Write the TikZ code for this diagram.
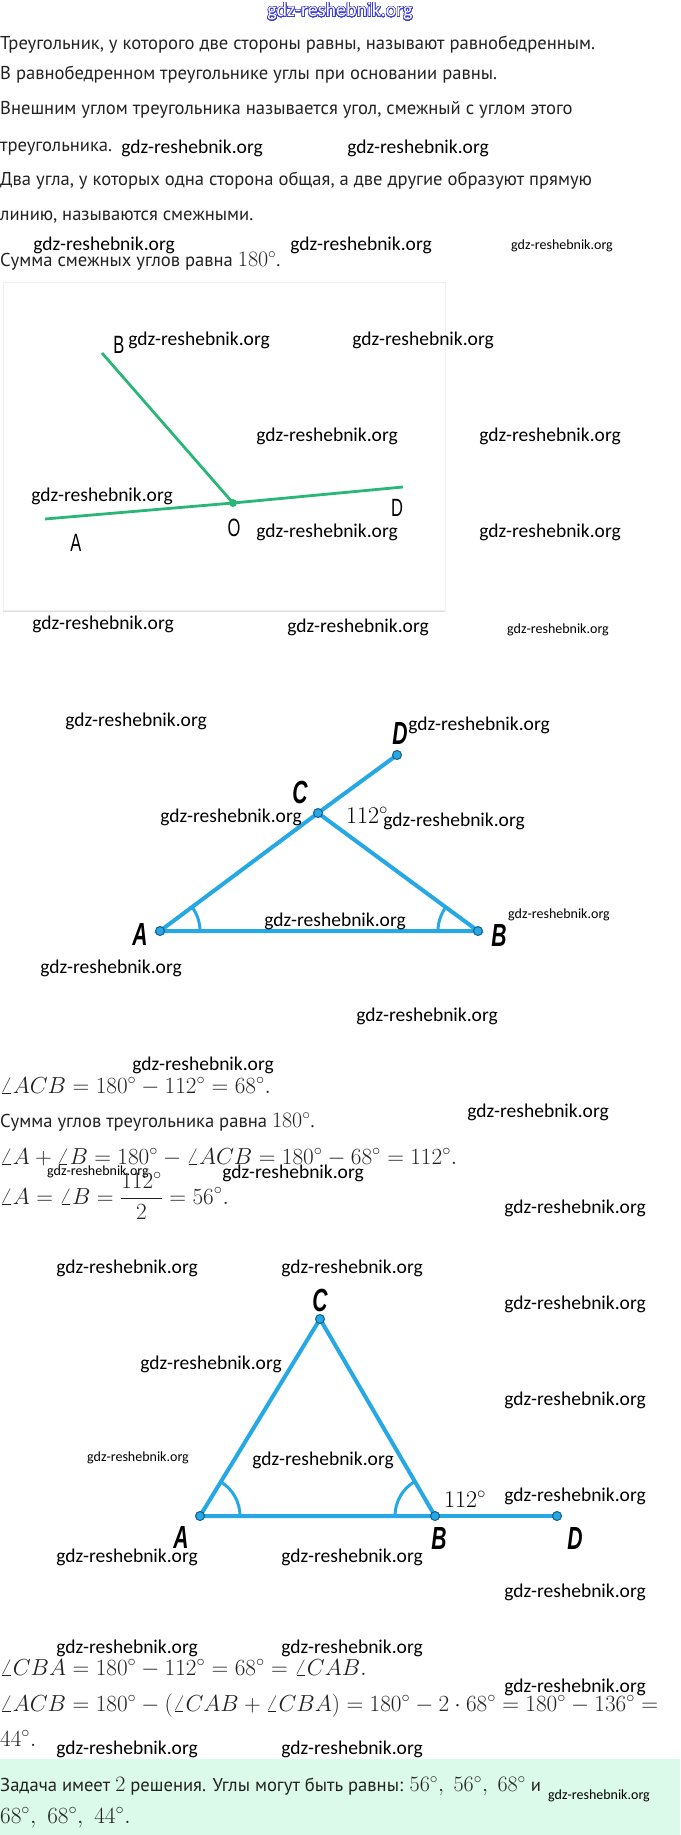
\RequirePackage{fix-cm}
\documentclass[tikz,border=0pt]{standalone}
\usepackage{fontspec}
\usepackage{contour}
\usetikzlibrary{shadows,calc}
\newfontfamily\wmfont{Carlito}
\newfontfamily\bodyfont{PT Sans}
\newfontfamily\lblfont{Liberation Sans}
\definecolor{grn}{RGB}{42,182,118}
\definecolor{sky}{RGB}{38,168,228}
\definecolor{skyd}{RGB}{22,92,140}
\definecolor{mint}{RGB}{220,250,234}
\definecolor{ink}{RGB}{34,34,34}
\definecolor{hdr}{RGB}{60,60,215}
\newcommand{\mth}[1]{{\fontsize{22}{26}\selectfont$#1$}}
\tikzset{
  wm/.style={font=\wmfont\fontsize{19.5}{20}\selectfont, inner sep=0pt, text=black},
  wmsmall/.style={font=\wmfont\fontsize{14}{14}\selectfont, inner sep=0pt, text=black},
  txt/.style={font=\bodyfont\fontsize{18.6}{22}\selectfont, anchor=base west, inner sep=0pt, text=ink},
  mline/.style={font=\fontsize{23.2}{27}\selectfont, anchor=base west, inner sep=0pt, text=ink},
  glab/.style={font=\lblfont\fontsize{25}{25}\selectfont, inner sep=0pt, text=black},
  blab/.style={font=\lblfont\bfseries\itshape\fontsize{32}{32}\selectfont, inner sep=0pt, text=black},
  anglab/.style={font=\fontsize{24}{24}\selectfont, inner sep=0pt, text=black},
  gline/.style={draw=grn, line width=2.8pt},
  bline/.style={draw=sky, line width=4pt},
  barc/.style={draw=sky, line width=3pt},
  bpt/.style={circle, fill=sky, draw=skyd, line width=1pt, minimum size=9pt, inner sep=0pt},
  gpt/.style={circle, fill=grn, minimum size=8pt, inner sep=0pt},
}
\begin{document}
\begin{tikzpicture}[x=1pt,y=-1pt]
\useasboundingbox[fill=white] (0,0) rectangle (680,1835);

% header
\node[font=\wmfont\fontsize{20}{20}\selectfont, inner sep=0pt] (hdr) at (340,12)
  {\contourlength{0.6pt}\contour[32]{hdr}{\color{white}gdz-reshebnik.org}};

% intro text
\node[txt] (t1) at (0,50) {Треугольник, у которого две стороны равны, называют равнобедренным.};
\node[txt] (t2) at (0,80) {В равнобедренном треугольнике углы при основании равны.};
\node[txt] (t3) at (0,115) {Внешним углом треугольника называется угол, смежный с углом этого};
\node[txt] (t4) at (0,152) {треугольника.};
\node[txt] (t5) at (0,186) {Два угла, у которых одна сторона общая, а две другие образуют прямую};
\node[txt] (t6) at (0,221) {линию, называются смежными.};
\node[txt] (t7) at (0,266) {Сумма смежных углов равна \mth{180^\circ}.};

% panel 1
\path[fill=white, draw=black!6, drop shadow={shadow xshift=0pt,shadow yshift=-2pt,opacity=0.25}] (3,282) rectangle (445,610);
\coordinate (B1) at (102,353);
\coordinate (O1) at (233,503);
\coordinate (A1) at (45,519);
\coordinate (D1) at (403,487);
\draw[gline] (B1) -- (O1);
\draw[gline] (A1) -- (O1) -- (D1);
\node[gpt] (o1dot) at (O1) {};
\node[glab] (lB1) at (119,345) {\scalebox{0.66}[1]{B}};
\node[glab] (lO1) at (234,528) {\scalebox{0.66}[1]{O}};
\node[glab] (lA1) at (76,543) {\scalebox{0.66}[1]{A}};
\node[glab] (lD1) at (397,508) {\scalebox{0.66}[1]{D}};

% panel 2
\coordinate (A2) at (160,931);
\coordinate (B2) at (478,931);
\coordinate (C2) at (318,813);
\coordinate (D2) at (397,755);
\draw[barc] ($(A2)+(40,0)$) arc[start angle=0, end angle=-36.8, radius=40];
\draw[barc] ($(B2)+(-40,0)$) arc[start angle=-180, end angle=-143.6, radius=40];
\draw[bline] (A2) -- (B2) -- (C2) -- cycle;
\draw[bline] (C2) -- (D2);
\node[bpt] (pA2) at (A2) {};
\node[bpt] (pB2) at (B2) {};
\node[bpt] (pC2) at (C2) {};
\node[bpt] (pD2) at (D2) {};
\node[blab] (lA2) at (140,934) {\scalebox{0.66}[1]{A}};
\node[blab] (lB2) at (499,935) {\scalebox{0.66}[1]{B}};
\node[blab] (lC2) at (300,792) {\scalebox{0.66}[1]{C}};
\node[blab] (lD2) at (400,733) {\scalebox{0.66}[1]{D}};
\node[anglab] (ang2) at (367,815) {$112^\circ$};

% math block 1
\node[mline] (m1) at (0,1093) {$\angle ACB=180^\circ-112^\circ=68^\circ.$};
\node[txt] (m2) at (0,1127) {Сумма углов треугольника равна \mth{180^\circ}.};
\node[mline] (m3) at (0,1164) {$\angle A+\angle B=180^\circ-\angle ACB=180^\circ-68^\circ=112^\circ.$};
\node[mline] (m4) at (0,1204) {$\displaystyle\angle A=\angle B=\frac{112^\circ}{2}=56^\circ.$};

% panel 3
\coordinate (A3) at (200,1516);
\coordinate (B3) at (435,1516);
\coordinate (C3) at (320,1319);
\coordinate (D3) at (557,1516);
\draw[barc] ($(A3)+(40,0)$) arc[start angle=0, end angle=-58.65, radius=40];
\draw[barc] ($(B3)+(-40,0)$) arc[start angle=-180, end angle=-120.3, radius=40];
\draw[bline] (A3) -- (B3) -- (C3) -- cycle;
\draw[bline] (B3) -- (D3);
\node[bpt] (pA3) at (A3) {};
\node[bpt] (pB3) at (B3) {};
\node[bpt] (pC3) at (C3) {};
\node[bpt] (pD3) at (D3) {};
\node[blab] (lA3) at (181,1537) {\scalebox{0.66}[1]{A}};
\node[blab] (lB3) at (439,1538) {\scalebox{0.66}[1]{B}};
\node[blab] (lC3) at (320,1300) {\scalebox{0.66}[1]{C}};
\node[blab] (lD3) at (575,1538) {\scalebox{0.66}[1]{D}};
\node[anglab] (ang3) at (465,1499) {$112^\circ$};

% math block 2
\node[mline] (n1) at (0,1675) {$\angle CBA=180^\circ-112^\circ=68^\circ=\angle CAB.$};
\node[mline] (n2) at (0,1711) {$\angle ACB=180^\circ-(\angle CAB+\angle CBA)=180^\circ-2\cdot68^\circ=180^\circ-136^\circ=$};
\node[mline] (n3) at (0,1746) {$44^\circ.$};

% answer box
\fill[mint] (0,1759) rectangle (680,1835);
\node[txt] (r1) at (0,1791) {Задача имеет \mth{2} решения. Углы могут быть равны: \mth{56^\circ,\ 56^\circ,\ 68^\circ} и};
\node[mline] (r2) at (0,1823) {$68^\circ,\ 68^\circ,\ 44^\circ.$};

% watermarks
\node[wm] (w1) at (192,148) {gdz-reshebnik.org};
\node[wm] (w2) at (418,148) {gdz-reshebnik.org};
\node[wm] (w3) at (104,245) {gdz-reshebnik.org};
\node[wm] (w4) at (361,245) {gdz-reshebnik.org};
\node[wmsmall] (w5) at (562,246) {gdz-reshebnik.org};
\node[wm] (w6) at (199,340) {gdz-reshebnik.org};
\node[wm] (w7) at (423,340) {gdz-reshebnik.org};
\node[wm] (w8) at (327,436) {gdz-reshebnik.org};
\node[wm] (w9) at (550,436) {gdz-reshebnik.org};
\node[wm] (w10) at (102,496) {gdz-reshebnik.org};
\node[wm] (w11) at (327,532) {gdz-reshebnik.org};
\node[wm] (w12) at (550,532) {gdz-reshebnik.org};
\node[wm] (w13) at (103,624) {gdz-reshebnik.org};
\node[wm] (w14) at (358,627) {gdz-reshebnik.org};
\node[wmsmall] (w15) at (558,630) {gdz-reshebnik.org};
\node[wm] (w16) at (136,721) {gdz-reshebnik.org};
\node[wm] (w17) at (479,725) {gdz-reshebnik.org};
\node[wm] (w18) at (231,817) {gdz-reshebnik.org};
\node[wm] (w19) at (454,821) {gdz-reshebnik.org};
\node[wm] (w20) at (335,921) {gdz-reshebnik.org};
\node[wmsmall] (w21) at (559,915) {gdz-reshebnik.org};
\node[wm] (w22) at (111,968) {gdz-reshebnik.org};
\node[wm] (w23) at (427,1016) {gdz-reshebnik.org};
\node[wm] (w24) at (203,1065) {gdz-reshebnik.org};
\node[wm] (w25) at (538,1112) {gdz-reshebnik.org};
\node[wmsmall] (w26) at (98,1172) {gdz-reshebnik.org};
\node[wm] (w27) at (293,1173) {gdz-reshebnik.org};
\node[wm] (w28) at (575,1208) {gdz-reshebnik.org};
\node[wm] (w29) at (127,1268) {gdz-reshebnik.org};
\node[wm] (w30) at (352,1268) {gdz-reshebnik.org};
\node[wm] (w31) at (575,1304) {gdz-reshebnik.org};
\node[wm] (w32) at (211,1364) {gdz-reshebnik.org};
\node[wm] (w33) at (575,1400) {gdz-reshebnik.org};
\node[wmsmall] (w34) at (138,1458) {gdz-reshebnik.org};
\node[wm] (w35) at (323,1460) {gdz-reshebnik.org};
\node[wm] (w36) at (575,1496) {gdz-reshebnik.org};
\node[wm] (w37) at (127,1557) {gdz-reshebnik.org};
\node[wm] (w38) at (352,1557) {gdz-reshebnik.org};
\node[wm] (w39) at (575,1592) {gdz-reshebnik.org};
\node[wm] (w40) at (127,1648) {gdz-reshebnik.org};
\node[wm] (w41) at (352,1648) {gdz-reshebnik.org};
\node[wm] (w42) at (575,1687) {gdz-reshebnik.org};
\node[wm] (w43) at (127,1749) {gdz-reshebnik.org};
\node[wm] (w44) at (352,1749) {gdz-reshebnik.org};
\node[wmsmall] (w45) at (599,1796) {gdz-reshebnik.org};
\end{tikzpicture}
\end{document}
